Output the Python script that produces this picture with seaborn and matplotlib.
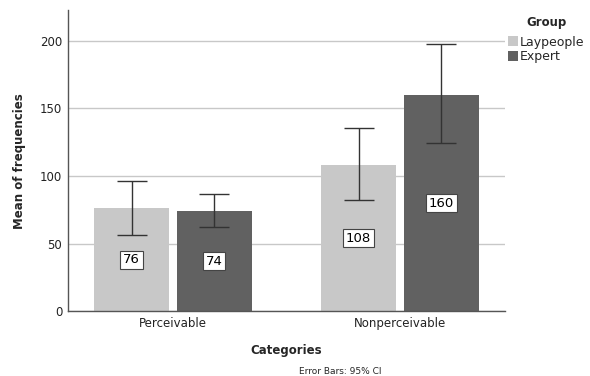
import matplotlib
matplotlib.use('Agg')
import matplotlib.pyplot as plt
import seaborn as sns
import pandas as pd
import numpy as np

# Data
categories = ['Perceivable', 'Nonperceivable']
groups = ['Laypeople', 'Expert']
means_lay = [76, 108]
means_expert = [74, 160]
ci_low_lay = [56.6, 81.9]
ci_high_lay = [96.4, 135.5]
ci_low_expert = [62.0, 124.2]
ci_high_expert = [87.0, 197.2]

colors = ['#c8c8c8', '#616161']

df = pd.DataFrame({
    'Categories': categories * 2,
    'Group': [groups[0]] * 2 + [groups[1]] * 2,
    'Mean': means_lay + means_expert,
})
ci_low = {groups[0]: ci_low_lay, groups[1]: ci_low_expert}
ci_high = {groups[0]: ci_high_lay, groups[1]: ci_high_expert}

sns.set_style('white')
plt.rcParams['font.family'] = ['DejaVu Sans']

fig, ax = plt.subplots(figsize=(5.9, 3.76), dpi=100)
fig.subplots_adjust(left=0.115, right=0.856, top=0.973, bottom=0.172)

sns.barplot(
    data=df, x='Categories', y='Mean', hue='Group',
    order=categories, hue_order=groups,
    palette=colors, width=0.73, gap=0.1,
    errorbar=None, edgecolor='none', linewidth=0,
    legend=True, ax=ax, zorder=2
)

# error bars and value labels
for grp, container in zip(groups, ax.containers):
    for i, bar in enumerate(container):
        xc = bar.get_x() + bar.get_width() / 2
        h = bar.get_height()
        lo, hi = ci_low[grp][i], ci_high[grp][i]
        ax.errorbar(xc, h, yerr=[[h - lo], [hi - h]], fmt='none',
                    ecolor='#333333', elinewidth=1.0, capsize=11,
                    capthick=1.0, zorder=3)
        ax.text(xc, h / 2, f'{h:.0f}', ha='center', va='center',
                fontsize=9.5, color='black', zorder=4,
                bbox=dict(boxstyle='square,pad=0.2', fc='white',
                          ec='#444444', lw=0.8))

ax.set_xlim(-0.463, 1.463)
ax.set_ylim(0, 222.5)
ax.set_yticks([0, 50, 100, 150, 200])
ax.yaxis.grid(True, color='#c8c8c8', linewidth=1.0, zorder=0)
ax.set_axisbelow(True)
for s in ['top', 'right']:
    ax.spines[s].set_visible(False)
for s in ['left', 'bottom']:
    ax.spines[s].set_color('#555555')
    ax.spines[s].set_linewidth(1.0)
ax.tick_params(axis='both', length=0, labelsize=8.5, colors='#222222', pad=4)

ax.set_xlabel('Categories', fontsize=8.5, fontweight='bold', labelpad=10)
ax.set_ylabel('Mean of frequencies', fontsize=8.5, fontweight='bold', labelpad=10)

leg = ax.legend(title='Group', loc='upper left', bbox_to_anchor=(1.0, 0.99),
                frameon=False, fontsize=9,
                title_fontproperties={'weight': 'bold', 'size': 8.5},
                handlelength=0.85, handleheight=0.85, handletextpad=0.15,
                labelspacing=0.15, borderaxespad=0.1, borderpad=0.1)
leg._legend_box.sep = 5
for h in leg.legend_handles:
    h.set_edgecolor('none')

fig.text(0.576, 0.013, 'Error Bars: 95% CI', ha='center', va='center', fontsize=6.5)

fig.savefig('out.png', dpi=100)
